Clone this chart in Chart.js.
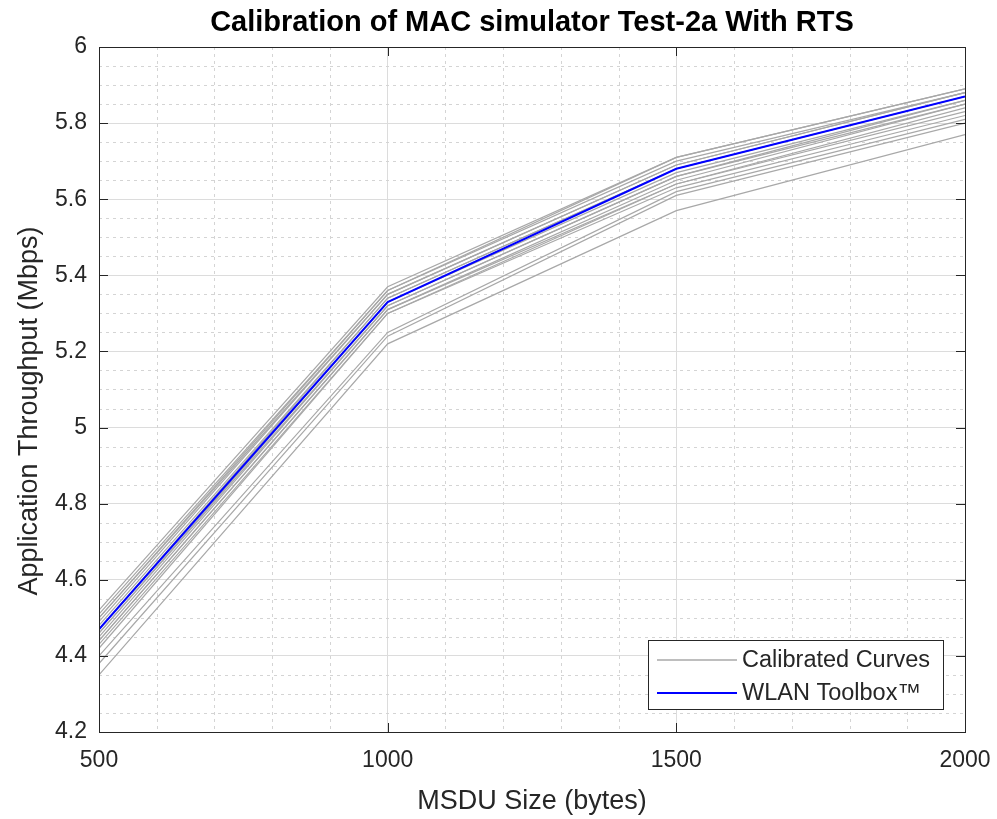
<!DOCTYPE html>
<html>
<head>
<meta charset="utf-8">
<title>Calibration of MAC simulator Test-2a With RTS</title>
<script src="https://cdn.jsdelivr.net/npm/chart.js@4/dist/chart.umd.min.js"></script>
<style>
  html, body { margin: 0; padding: 0; background: #ffffff; }
  #contenedor { width: 997px; height: 819px; position: relative; }
</style>
</head>
<body>
<div id="contenedor"><canvas id="grafico"></canvas></div>
<script>
// Tamaños de MSDU (eje x)
const tamanosMSDU = [500, 1000, 1500, 2000];

// Curva de referencia WLAN Toolbox
const curvaWLAN = [4.47, 5.33, 5.68, 5.87];

// Curvas calibradas (grises), un valor por cada tamaño de MSDU
const curvasCalibradas = [
    [4.52, 5.37, 5.71, 5.89],
    [4.51, 5.36, 5.71, 5.89],
    [4.50, 5.36, 5.70, 5.88],
    [4.50, 5.35, 5.69, 5.88],
    [4.49, 5.35, 5.69, 5.88],
    [4.48, 5.34, 5.68, 5.87],
    [4.47, 5.34, 5.68, 5.87],
    [4.46, 5.33, 5.67, 5.86],
    [4.46, 5.32, 5.66, 5.86],
    [4.45, 5.32, 5.66, 5.85],
    [4.44, 5.31, 5.65, 5.85],
    [4.44, 5.31, 5.64, 5.84],
    [4.43, 5.30, 5.64, 5.83],
    [4.42, 5.30, 5.63, 5.82],
    [4.40, 5.25, 5.62, 5.81],
    [4.38, 5.24, 5.61, 5.80],
    [4.35, 5.22, 5.57, 5.77]
];

// Etiquetas de los ejes
const ticksX = [500, 1000, 1500, 2000];
const ticksY = [4.2, 4.4, 4.6, 4.8, 5, 5.2, 5.4, 5.6, 5.8, 6];

const tituloGrafico = 'Calibration of MAC simulator Test-2a With RTS';
const tituloX = 'MSDU Size (bytes)';
const tituloY = 'Application Throughput (Mbps)';
const etiquetasLeyenda = ['Calibrated Curves', 'WLAN Toolbox\u2122'];

const fuente = "'Liberation Sans', Arial, Helvetica, sans-serif";
const colorTexto = '#262626';
const colorGris = '#a8a8a8';
const colorAzul = '#0000ff';

// Convierte una serie en puntos {x, y}
function aPuntos(valores) {
    return tamanosMSDU.map((x, i) => ({ x: x, y: valores[i] }));
}

// Plugin para la rejilla menor, el marco, los titulos y la leyenda
const pluginMarco = {
    id: 'marco',
    beforeDatasetsDraw(chart) {
        const ctx = chart.ctx;
        const area = chart.chartArea;
        const sx = chart.scales.x;
        const sy = chart.scales.y;
        ctx.save();
        ctx.strokeStyle = '#d4d4d4';
        ctx.lineWidth = 1;
        ctx.setLineDash([3, 4]);
        // Rejilla menor vertical cada 100
        for (let v = 600; v < 2000; v += 100) {
            if (v % 500 === 0) continue;
            const px = Math.round(sx.getPixelForValue(v)) + 0.5;
            ctx.beginPath();
            ctx.moveTo(px, area.top);
            ctx.lineTo(px, area.bottom);
            ctx.stroke();
        }
        // Rejilla menor horizontal cada 0.05
        for (let k = 1; k < 36; k++) {
            if (k % 4 === 0) continue;
            const py = Math.round(sy.getPixelForValue(4.2 + k * 0.05)) + 0.5;
            ctx.beginPath();
            ctx.moveTo(area.left, py);
            ctx.lineTo(area.right, py);
            ctx.stroke();
        }
        ctx.restore();
    },
    afterDatasetsDraw(chart) {
        const ctx = chart.ctx;
        const area = chart.chartArea;
        const sx = chart.scales.x;
        const sy = chart.scales.y;
        const largo = 9;
        ctx.save();
        ctx.strokeStyle = colorTexto;
        ctx.lineWidth = 1;
        ctx.strokeRect(Math.round(area.left) + 0.5, Math.round(area.top) + 0.5,
            Math.round(area.right - area.left), Math.round(area.bottom - area.top));
        ctx.beginPath();
        // Marcas hacia adentro en los cuatro lados
        ticksX.forEach(v => {
            const px = Math.round(sx.getPixelForValue(v)) + 0.5;
            ctx.moveTo(px, area.bottom);
            ctx.lineTo(px, area.bottom - largo);
            ctx.moveTo(px, area.top);
            ctx.lineTo(px, area.top + largo);
        });
        ticksY.forEach(v => {
            const py = Math.round(sy.getPixelForValue(v)) + 0.5;
            ctx.moveTo(area.left, py);
            ctx.lineTo(area.left + largo, py);
            ctx.moveTo(area.right, py);
            ctx.lineTo(area.right - largo, py);
        });
        ctx.stroke();
        ctx.restore();
    },
    afterDraw(chart) {
        const ctx = chart.ctx;
        const area = chart.chartArea;
        ctx.save();
        // Titulo del grafico
        ctx.fillStyle = '#000000';
        ctx.font = 'bold 29px ' + fuente;
        ctx.textAlign = 'center';
        ctx.textBaseline = 'middle';
        ctx.fillText(tituloGrafico, (area.left + area.right) / 2, 23);

        // Titulo del eje y (girado)
        ctx.save();
        ctx.translate(30, 411);
        ctx.rotate(-Math.PI / 2);
        ctx.fillStyle = colorTexto;
        ctx.font = '27px ' + fuente;
        ctx.fillText(tituloY, 0, 0);
        ctx.restore();

        // Leyenda dentro del area de trazado
        const caja = { x: 648.5, y: 640.5, w: 295, h: 69 };
        ctx.fillStyle = '#ffffff';
        ctx.fillRect(caja.x, caja.y, caja.w, caja.h);
        ctx.strokeStyle = colorTexto;
        ctx.lineWidth = 1;
        ctx.strokeRect(caja.x, caja.y, caja.w, caja.h);
        const filas = [660, 693];
        const colores = [colorGris, colorAzul];
        const anchos = [1.5, 2];
        ctx.font = '23.5px ' + fuente;
        ctx.textAlign = 'left';
        for (let i = 0; i < 2; i++) {
            ctx.strokeStyle = colores[i];
            ctx.lineWidth = anchos[i];
            ctx.beginPath();
            ctx.moveTo(657, filas[i]);
            ctx.lineTo(737, filas[i]);
            ctx.stroke();
            ctx.fillStyle = colorTexto;
            ctx.fillText(etiquetasLeyenda[i], 742, filas[i] + 1);
        }
        ctx.restore();
    }
};

function generarGrafico() {
    const ctx = document.getElementById('grafico').getContext('2d');

    // Conjuntos de datos: primero la curva azul (queda encima)
    const conjuntos = [{
        label: etiquetasLeyenda[1],
        data: aPuntos(curvaWLAN),
        borderColor: colorAzul,
        borderWidth: 2,
        pointRadius: 0,
        order: 0
    }];
    curvasCalibradas.forEach((curva, i) => {
        conjuntos.push({
            label: etiquetasLeyenda[0] + ' ' + (i + 1),
            data: aPuntos(curva),
            borderColor: colorGris,
            borderWidth: 1.2,
            pointRadius: 0,
            order: 1
        });
    });

    return new Chart(ctx, {
        type: 'line',
        data: { datasets: conjuntos },
        options: {
            responsive: true,
            maintainAspectRatio: false,
            animation: false,
            events: [],
            layout: { padding: { top: 47, right: 32, left: 0, bottom: 0 } },
            plugins: {
                legend: { display: false },
                title: { display: false },
                tooltip: { enabled: false }
            },
            scales: {
                x: {
                    type: 'linear',
                    min: 500,
                    max: 2000,
                    afterBuildTicks: (escala) => { escala.ticks = ticksX.map(v => ({ value: v })); },
                    afterFit: (escala) => {
                        escala.height = 87;
                        escala.paddingLeft = 0;
                        escala.paddingRight = 0;
                    },
                    grid: { color: '#dcdcdc', drawTicks: false },
                    border: { display: false },
                    ticks: {
                        autoSkip: false,
                        maxRotation: 0,
                        padding: 15,
                        color: colorTexto,
                        font: { family: fuente, size: 23 },
                        callback: (valor) => String(valor)
                    },
                    title: {
                        display: true,
                        text: tituloX,
                        color: colorTexto,
                        font: { family: fuente, size: 27 },
                        padding: { top: 0, bottom: 1 }
                    }
                },
                y: {
                    type: 'linear',
                    min: 4.2,
                    max: 6,
                    afterBuildTicks: (escala) => { escala.ticks = ticksY.map(v => ({ value: v })); },
                    afterFit: (escala) => {
                        escala.width = 99;
                        escala.paddingTop = 0;
                        escala.paddingBottom = 0;
                    },
                    grid: { color: '#dcdcdc', drawTicks: false },
                    border: { display: false },
                    ticks: {
                        padding: 12,
                        color: colorTexto,
                        font: { family: fuente, size: 23 },
                        callback: (valor) => String(Number(valor.toFixed(1)))
                    }
                }
            }
        },
        plugins: [pluginMarco]
    });
}

const grafico = generarGrafico();
</script>
</body>
</html>
